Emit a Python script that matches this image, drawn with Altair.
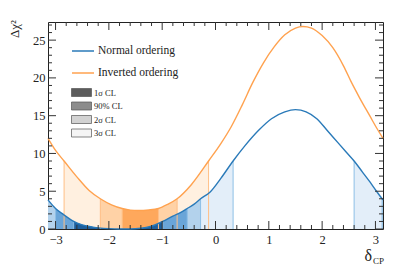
import math
import altair as alt
import pandas as pd

PI = math.pi

# ---------------- data ----------------
orderings = ["Normal ordering", "Inverted ordering"]
line_colors = ["#2a7ab9", "#ffa24f"]

delta_no = [-PI, -3.0, -2.85, -2.75, -2.66, -2.5, -2.3, -2.1, -1.9, -1.7, -1.5, -1.3,
            -1.15, -0.99, -0.8, -0.65, -0.53, -0.4, -0.28, -0.1, 0.1, 0.33, 0.55, 0.8,
            1.05, 1.3, 1.5, 1.7, 1.9, 2.1, 2.3, 2.45, 2.6, 2.75, 2.9, 3.02, 3.125, PI]
chi_no = [3.85, 2.71, 1.9, 1.4, 1.0, 0.55, 0.25, 0.08, 0.01, 0.0, 0.03, 0.2,
          0.5, 1.0, 1.7, 2.2, 2.71, 3.3, 4.0, 4.9, 6.7, 9.0, 11.0, 13.0,
          14.6, 15.5, 15.8, 15.5, 14.6, 13.0, 11.4, 10.2, 9.0, 7.6, 6.2, 5.0, 4.0, 3.85]

delta_io = [-PI, -3.0, -2.84, -2.6, -2.37, -2.16, -1.95, -1.75, -1.6, -1.45, -1.25,
            -1.07, -0.9, -0.72, -0.45, -0.13, 0.1, 0.3, 0.5, 0.7, 0.9, 1.1, 1.3, 1.5,
            1.64, 1.8, 2.0, 2.2, 2.4, 2.55, 2.7, 2.9, 3.02, PI]
chi_io = [12.0, 10.4, 9.0, 6.9, 5.1, 4.0, 3.2, 2.71, 2.5, 2.45, 2.52,
          2.71, 3.25, 4.0, 5.9, 9.0, 11.3, 13.6, 16.4, 19.4, 22.0, 24.1, 25.7, 26.6,
          26.8, 26.6, 25.6, 24.0, 21.6, 19.4, 17.4, 14.9, 13.4, 12.0]

levels = ["1σ CL", "90% CL", "2σ CL", "3σ CL"]
legend_grays = ["#5c5c5c", "#8c8c8c", "#d2d2d2", "#f5f5f5"]

# allowed regions: (level, low edge, high edge)
regions_no = [("3σ CL", -PI, 0.33), ("3σ CL", 2.6, PI), ("2σ CL", -PI, -0.28),
              ("2σ CL", 3.125, PI), ("90% CL", -3.0, -0.53), ("1σ CL", -2.66, -0.99)]
regions_io = [("3σ CL", -2.84, -0.13), ("2σ CL", -2.16, -0.72), ("90% CL", -1.75, -1.07)]

fill_no = {"3σ CL": "#e3eef9", "2σ CL": "#b3d2ec", "90% CL": "#6aa5d8", "1σ CL": "#1d5f9e"}
fill_io = {"3σ CL": "#fff0e0", "2σ CL": "#ffd2a6", "90% CL": "#fea85c"}
edge_colors = {"Normal ordering": "#8dbfe6", "Inverted ordering": "#ffbf86"}

x_major = [-3, -2, -1, 0, 1, 2, 3]
x_minor = [round(-3 + 0.2 * i, 1) for i in range(31) if i % 5 != 0]
y_major = [0, 5, 10, 15, 20, 25]
y_minor = [v for v in range(0, 28) if v % 5 != 0]

W, H = 335, 207

# ---------------- tables ----------------
curves = pd.concat([
    pd.DataFrame({"d": delta_no, "chi": chi_no, "ordering": orderings[0]}),
    pd.DataFrame({"d": delta_io, "chi": chi_io, "ordering": orderings[1]}),
], ignore_index=True)

area_rows, edge_rows = [], []
for ordering, regs, dl, cl in [(orderings[0], regions_no, delta_no, chi_no),
                               (orderings[1], regions_io, delta_io, chi_io)]:
    for k, (lvl, lo, hi) in enumerate(regs):
        for d, c in zip(dl, cl):
            if lo - 1e-9 <= d <= hi + 1e-9:
                area_rows.append({"d": d, "chi": c, "ordering": ordering,
                                  "level": lvl, "seg": f"{ordering}-{k}"})
        for e in (lo, hi):
            if abs(abs(e) - PI) > 1e-6:
                c = cl[dl.index(e)]
                edge_rows.append({"d": e, "chi": c, "ordering": ordering})
areas = pd.DataFrame(area_rows)
edges = pd.DataFrame(edge_rows)

FONT = "Liberation Serif"
xs = alt.Scale(domain=[-PI, PI], nice=False, zero=False)
ys = alt.Scale(domain=[0, 27.4], nice=False, zero=False)
X_AX = alt.Axis(values=x_major, ticks=False, domain=False, grid=False, title=None,
                labelPadding=4, format="d")
Y_AX = alt.Axis(values=y_major, ticks=False, domain=False, grid=False, title=None,
                labelPadding=3)


def X(field="d"):
    return alt.X(f"{field}:Q", scale=xs, axis=X_AX)


def Y(field="chi"):
    return alt.Y(f"{field}:Q", scale=ys, axis=Y_AX, stack=None)


layers = []

# areas: IO first, then NO on top
draw_order = [(orderings[1], l, fill_io[l]) for l in ["3σ CL", "2σ CL", "90% CL"]] + \
             [(orderings[0], l, fill_no[l]) for l in ["3σ CL", "2σ CL", "90% CL", "1σ CL"]]
for ordering, lvl, col in draw_order:
    layers.append(
        alt.Chart(areas).transform_filter(
            (alt.datum.ordering == ordering) & (alt.datum.level == lvl)
        ).mark_area(interpolate="monotone", fill=col, opacity=1).encode(
            x=X(), y=Y(), detail="seg:N",
        )
    )

# region edges
for ordering in orderings:
    layers.append(
        alt.Chart(edges).transform_filter(alt.datum.ordering == ordering)
        .mark_rule(strokeWidth=1, color=edge_colors[ordering]).encode(
            x=X(), y=Y(), y2=alt.datum(0),
        )
    )

# curves + line legend
layers.append(
    alt.Chart(curves).mark_line(interpolate="monotone", strokeWidth=1.4).encode(
        x=X(), y=Y(),
        color=alt.Color("ordering:N", scale=alt.Scale(domain=orderings, range=line_colors),
                        legend=alt.Legend(orient="none", legendX=23, legendY=17, title=None,
                                          symbolType="stroke", symbolSize=484,
                                          symbolStrokeWidth=1.5, labelFont=FONT,
                                          labelFontSize=11.5, labelColor="#222",
                                          labelOffset=3, rowPadding=4, padding=0)),
    )
)


# inward ticks on all four sides
def xticks(vals, length, top):
    df = pd.DataFrame({"d": vals})
    y0, y1 = (0, length) if top else (H, H - length)
    return alt.Chart(df).mark_rule(color="#333", strokeWidth=1).encode(
        x=X(), y=alt.value(y0), y2=alt.value(y1))


def yticks(vals, length, right):
    df = pd.DataFrame({"chi": vals})
    x0, x1 = (W, W - length) if right else (0, length)
    return alt.Chart(df).mark_rule(color="#333", strokeWidth=1).encode(
        y=Y(), x=alt.value(x0), x2=alt.value(x1))


for top in (False, True):
    layers.append(xticks(x_major, 8, top))
    layers.append(xticks(x_minor, 4, top))
for right in (False, True):
    layers.append(yticks(y_major, 8, right))
    layers.append(yticks(y_minor, 4, right))

# confidence-level legend (zero-size rects, legend only)
layers.append(
    alt.Chart(pd.DataFrame({"lvl": levels})).mark_rect().encode(
        x=alt.value(0), x2=alt.value(0), y=alt.value(0), y2=alt.value(0),
        fill=alt.Fill("lvl:N", scale=alt.Scale(domain=levels, range=legend_grays),
                      legend=alt.Legend(orient="none", legendX=29, legendY=66, title=None,
                                        symbolType="M-2.5,-1H2.5V1H-2.5Z", symbolSize=64,
                                        symbolStrokeColor="#555", symbolStrokeWidth=0.7,
                                        labelFont=FONT, labelFontSize=8.5, labelColor="#222",
                                        labelOffset=8, rowPadding=2.5, padding=0)),
    )
)

# axis titles
layers.append(alt.Chart(pd.DataFrame({"t": ["δ"]})).mark_text(
    font=FONT, fontSize=16, align="right", baseline="alphabetic", color="#222").encode(
    x=alt.value(324), y=alt.value(239), text="t:N"))
layers.append(alt.Chart(pd.DataFrame({"t": ["CP"]})).mark_text(
    font=FONT, fontSize=9, align="left", baseline="alphabetic", color="#222").encode(
    x=alt.value(325), y=alt.value(242), text="t:N"))
layers.append(alt.Chart(pd.DataFrame({"t": ["Δχ²"]})).mark_text(
    font=FONT, fontSize=13, align="right", baseline="middle", angle=270, color="#222").encode(
    x=alt.value(-33), y=alt.value(-2), text="t:N"))

chart = alt.layer(*layers).properties(
    width=W, height=H,
    autosize=alt.AutoSizeParams(type="none"),
    padding={"left": 40, "top": 14, "right": 4, "bottom": 38},
).configure_view(stroke="#222", strokeWidth=1).configure_axis(
    labelFont=FONT, labelFontSize=12.5, labelColor="#222"
)

chart.save("out.html", embed_options={"renderer": "svg", "actions": False})
